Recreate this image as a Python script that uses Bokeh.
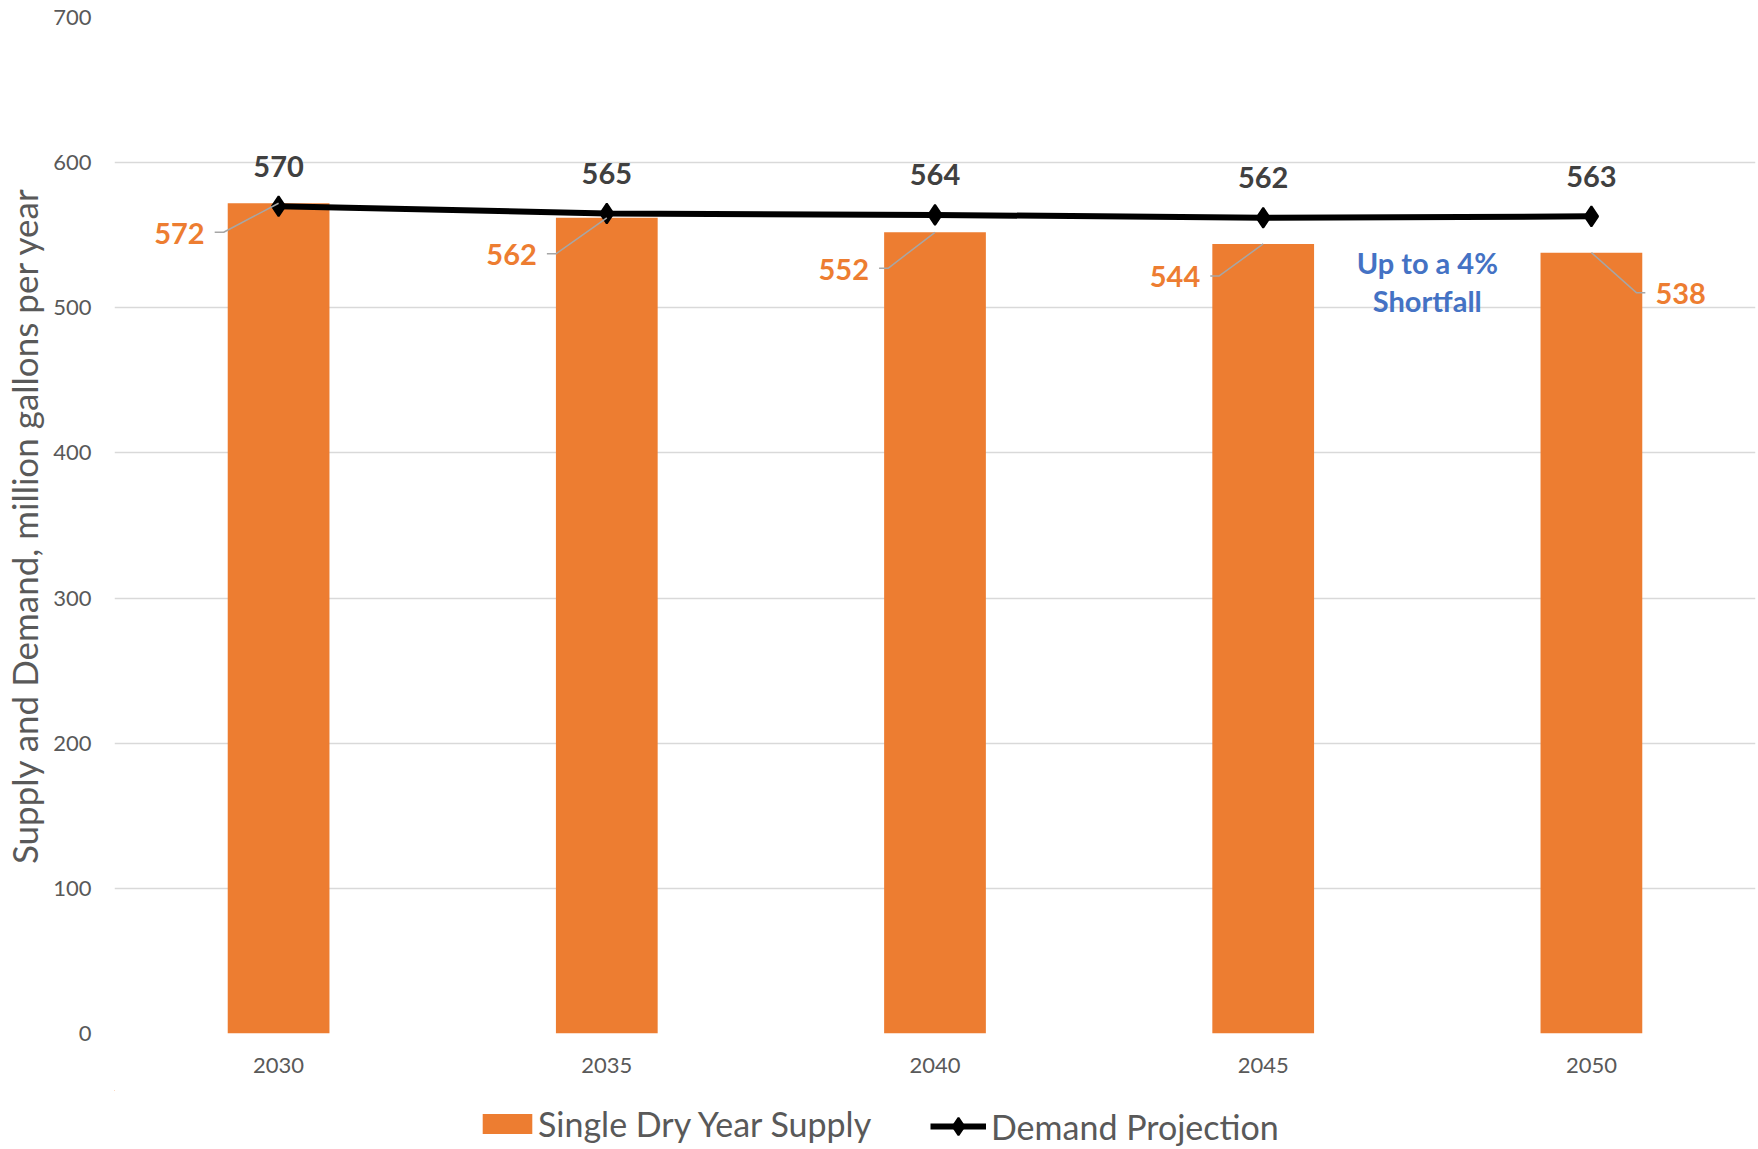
from bokeh.plotting import figure
from bokeh.layouts import column
from bokeh.models import (ColumnDataSource, FixedTicker, Legend, LegendItem,
                          Range1d)
from bokeh.core.properties import value
from bokeh.embed import file_html
from bokeh.resources import INLINE

# --- data -------------------------------------------------------------
years = ["2030", "2035", "2040", "2045", "2050"]
supply = [572, 562, 552, 544, 538]          # single dry year supply
demand = [570, 565, 564, 562, 563]          # demand projection
y_ticks = [0, 100, 200, 300, 400, 500, 600, 700]
note_text = "Up to a 4%\nShortfall"
supply_name = "Single Dry Year Supply"
demand_name = "Demand Projection"

# --- layout ------------------------------------------------------------
W, H = 1758, 1149
MAIN_H = 1090                      # chart height; legend strip below it
LEFT, RIGHT, TOP, BOTTOM = 112, 3, 17, 57
X_LO, X_HI = -0.5, len(years) - 0.5
Y_LO, Y_HI = 0, 700
PX_X = (W - LEFT - RIGHT) / (X_HI - X_LO)        # screen px per category
PX_Y = (MAIN_H - TOP - BOTTOM) / (Y_HI - Y_LO)   # screen px per unit

ORANGE = "#ED7D31"
GRID = "#D9D9D9"
AXIS_TXT = "#595959"
FONT = "Lato"
LABEL_SIZE = "29px"

idx = list(range(len(years)))

p = figure(width=W, height=MAIN_H, x_range=Range1d(X_LO, X_HI),
           y_range=Range1d(Y_LO, Y_HI), output_backend="svg",
           toolbar_location=None, min_border_left=LEFT,
           min_border_right=RIGHT, min_border_top=TOP,
           min_border_bottom=BOTTOM)
p.outline_line_color = None
p.background_fill_color = "white"

# axes
p.xaxis.ticker = FixedTicker(ticks=idx)
p.xaxis.major_label_overrides = {i: y for i, y in zip(idx, years)}
p.yaxis.ticker = FixedTicker(ticks=y_ticks)
for ax in (p.xaxis, p.yaxis):
    ax.axis_line_color = None
    ax.major_tick_line_color = None
    ax.minor_tick_line_color = None
    ax.major_tick_out = 0
    ax.major_tick_in = 0
    ax.major_label_text_font = FONT
    ax.major_label_text_font_size = "22px"
    ax.major_label_text_color = AXIS_TXT
p.xaxis.major_label_standoff = 24
p.yaxis.major_label_standoff = 23
p.yaxis.axis_label = "Supply and Demand, million gallons per year"
p.yaxis.axis_label_text_font = FONT
p.yaxis.axis_label_text_font_style = "normal"
p.yaxis.axis_label_text_font_size = "35px"
p.yaxis.axis_label_text_color = AXIS_TXT
p.yaxis.axis_label_standoff = 5

p.xgrid.grid_line_color = None
p.ygrid.grid_line_color = GRID
p.ygrid.grid_line_width = 1.5

# bars and demand line
BAR_STYLE = dict(width=0.31, fill_color=ORANGE, line_color=None)
LINE_STYLE = dict(line_color="black", line_width=6)
MARK_STYLE = dict(marker="diamond", fill_color="black", line_color="black",
                  line_width=2)
p.vbar(x=idx, top=supply, **BAR_STYLE)
p.line(idx, demand, **LINE_STYLE)
p.scatter(idx, demand, size=20, **MARK_STYLE)

# demand value labels above the markers
p.text(x=idx, y=demand, text=[str(v) for v in demand], y_offset=-40,
       text_align="center", text_baseline="middle",
       text_font=value(FONT), text_font_style="bold",
       text_font_size=LABEL_SIZE, text_color="#404040")

# supply value labels with leader lines back to the bar tops
lab_dx = [-74, -70, -66, -63, 64]     # label edge, px from bar centre
lab_dy = [30, 37, 37, 33, 41]         # label centre, px below bar top
lab_align = ["right", "right", "right", "right", "left"]
GAP, RUN = 10, 9
lead_xs, lead_ys = [], []
for i, top, dx, dy in zip(idx, supply, lab_dx, lab_dy):
    d = 1 if dx < 0 else -1
    start = dx + d * GAP
    knee = dx + d * (GAP + RUN)
    yy = top - (dy - 1) / PX_Y
    lead_xs.append([i + start / PX_X, i + knee / PX_X, i])
    lead_ys.append([yy, yy, top])
p.multi_line(xs=lead_xs, ys=lead_ys, line_color="#A6A6A6", line_width=1.5)

sup_src = ColumnDataSource(dict(x=idx, y=supply,
                                text=[str(v) for v in supply],
                                dx=lab_dx, dy=lab_dy, align=lab_align))
p.text(x="x", y="y", text="text", x_offset="dx", y_offset="dy",
       text_align="align", text_baseline="middle", source=sup_src,
       text_font=value(FONT), text_font_style="bold",
       text_font_size=LABEL_SIZE, text_color=ORANGE)

# shortfall note between the last two years
p.text(x=[3.5], y=[518], text=[note_text], text_align="center",
       text_baseline="middle", text_line_height=1.1,
       text_font=value(FONT), text_font_style="bold",
       text_font_size=LABEL_SIZE, text_color="#4472C4")

# --- legend strip -----------------------------------------------------
# The key renderers carry the same series, but the strip's ranges lie
# well away from the data so only their legend swatches show.
leg = figure(width=W, height=H - MAIN_H, x_range=Range1d(100, 101),
             y_range=Range1d(-2000, -1999), output_backend="svg",
             toolbar_location=None, min_border=0,
             x_axis_location=None, y_axis_location=None)
leg.outline_line_color = None
leg.grid.grid_line_color = None
key_bar = leg.vbar(x=idx, top=supply, bottom=0, **BAR_STYLE)
key_line = leg.line(idx, demand, **LINE_STYLE)
key_mark = leg.scatter(idx, demand, size=20, **MARK_STYLE)


def style_legend(lg):
    lg.orientation = "horizontal"
    lg.padding = 0
    lg.margin = 0
    lg.border_line_color = None
    lg.background_fill_alpha = 0
    lg.label_text_font = FONT
    lg.label_text_font_size = "34px"
    lg.label_text_color = AXIS_TXT
    return lg


# the column aligns this strip's frame with the chart frame (left = LEFT)
supply_key = style_legend(Legend(
    items=[LegendItem(label=supply_name, renderers=[key_bar])],
    location=(474 - LEFT, 5)))
supply_key.glyph_width = 62
supply_key.glyph_height = 25
supply_key.label_standoff = 0

demand_key = style_legend(Legend(
    items=[LegendItem(label=demand_name, renderers=[key_line, key_mark])],
    location=(928 - LEFT, 1)))
demand_key.glyph_width = 56
demand_key.glyph_height = 44
demand_key.label_standoff = 5

leg.add_layout(supply_key)
leg.add_layout(demand_key)

page = column(p, leg, spacing=0)
open("out.html", "w").write(file_html(page, INLINE))
